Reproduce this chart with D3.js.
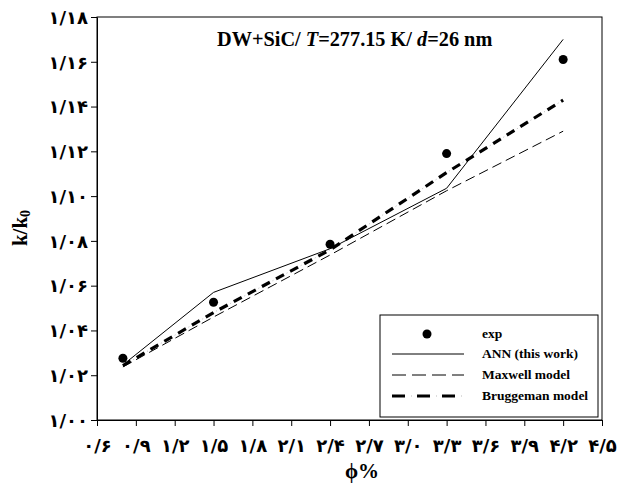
<!DOCTYPE html>
<html><head><meta charset="utf-8">
<script src="https://cdn.jsdelivr.net/npm/d3@7"></script>
<style>body{margin:0;background:#fff}</style>
</head><body>
<script>
const phi = [0.8, 1.5, 2.4, 3.3, 4.2];
const expVals = [1.0276, 1.0526, 1.0785, 1.119, 1.161];
const annVals = [1.0246, 1.057, 1.0765, 1.1035, 1.170];
const maxwellVals = [1.0237, 1.046, 1.0737, 1.1024, 1.129];
const bruggemanVals = [1.0243, 1.048, 1.0760, 1.1105, 1.1429];
const xTicks = [0.6,0.9,1.2,1.5,1.8,2.1,2.4,2.7,3.0,3.3,3.6,3.9,4.2,4.5];
const yTicks = [1.00,1.02,1.04,1.06,1.08,1.10,1.12,1.14,1.16,1.18];
const legendLabels = ["exp","ANN (this work)","Maxwell model","Bruggeman model"];

const W=625,H=493;
const m={l:97,r:602,t:17,b:420};
const svg=d3.select("body").append("svg").attr("width",W).attr("height",H);
const x=d3.scaleLinear().domain([0.6,4.5]).range([m.l,m.r]);
const y=d3.scaleLinear().domain([1.0,1.18]).range([m.b,m.t]);
const fa=n=>d=>{
  const s=d.toFixed(n);
  const p="۰۱۲۳۴۵۶۷۸۹";
  return s.replace(/[0-9]/g,c=>p[+c]).replace(".","/");
};
const tickFont="DejaVu Sans";
// frame
svg.append("rect").attr("x",m.l).attr("y",m.t).attr("width",m.r-m.l).attr("height",m.b-m.t)
  .attr("fill","none").attr("stroke","#000").attr("stroke-width",1);
const gx=svg.append("g").attr("transform",`translate(0,${m.b})`)
  .call(d3.axisBottom(x).tickValues(xTicks).tickSize(6).tickSizeOuter(0).tickFormat(fa(1)));
const gy=svg.append("g").attr("transform",`translate(${m.l},0)`)
  .call(d3.axisLeft(y).tickValues(yTicks).tickSize(6).tickSizeOuter(0).tickFormat(fa(2)));
[gx,gy].forEach(g=>{g.select(".domain").attr("stroke","#000");
  g.selectAll("text").attr("font-family",tickFont).attr("font-weight","bold").attr("font-size",18).attr("fill","#000");});
gx.selectAll("text").attr("dy","1.25em");
gy.selectAll("text").attr("x",-9).attr("dy","0.35em");

const pts=(vals)=>phi.map((p,i)=>[x(p),y(vals[i])]);
const line=d3.line();
svg.append("path").attr("d",line(pts(maxwellVals))).attr("fill","none").attr("stroke","#000")
  .attr("stroke-width",1).attr("stroke-dasharray","10,5");
svg.append("path").attr("d",line(pts(annVals))).attr("fill","none").attr("stroke","#000").attr("stroke-width",1);
svg.append("path").attr("d",line(pts(bruggemanVals))).attr("fill","none").attr("stroke","#000")
  .attr("stroke-width",3.2).attr("stroke-dasharray","9,7");
svg.append("path").attr("d",line(pts(bruggemanVals))).attr("fill","none").attr("stroke","#bbb")
  .attr("stroke-width",1).attr("stroke-dasharray","1,15").attr("stroke-dashoffset",-12);
svg.selectAll("circle.e").data(phi).enter().append("circle")
  .attr("cx",(d)=>x(d)).attr("cy",(d,i)=>y(expVals[i])).attr("r",4.5).attr("fill","#000");

// title
const t=svg.append("text").attr("x",217).attr("y",46).attr("font-family","Liberation Serif")
  .attr("font-weight","bold").attr("font-size",20.3);
t.append("tspan").text("DW+SiC/ ");
t.append("tspan").attr("font-style","italic").text("T");
t.append("tspan").text("=277.15 K/ ");
t.append("tspan").attr("font-style","italic").text("d");
t.append("tspan").text("=26 nm");

// axis labels
const yl=svg.append("text").attr("transform","translate(27,228) rotate(-90)").attr("text-anchor","middle")
  .attr("font-family","Liberation Serif").attr("font-weight","bold").attr("font-size",21);
yl.append("tspan").text("k/k");
yl.append("tspan").attr("font-size",14).attr("dy",3).text("0");
svg.append("text").attr("x",362).attr("y",478).attr("text-anchor","middle")
  .attr("font-family","Liberation Serif").attr("font-weight","bold").attr("font-size",21).text("ϕ%");

// legend
const lg=svg.append("g");
lg.append("rect").attr("x",380).attr("y",315).attr("width",218).attr("height",102)
  .attr("fill","#fff").attr("stroke","#000").attr("stroke-width",1);
const ly=[334,354,375,396];
const lx1=392,lx2=464;
lg.append("circle").attr("cx",427).attr("cy",ly[0]).attr("r",4.5).attr("fill","#000");
lg.append("line").attr("x1",lx1).attr("x2",lx2).attr("y1",ly[1]).attr("y2",ly[1]).attr("stroke","#000");
lg.append("line").attr("x1",lx1).attr("x2",lx2).attr("y1",ly[2]).attr("y2",ly[2]).attr("stroke","#000").attr("stroke-dasharray","14,6");
lg.append("line").attr("x1",lx1).attr("x2",lx2).attr("y1",ly[3]).attr("y2",ly[3]).attr("stroke","#000").attr("stroke-width",3.2).attr("stroke-dasharray","13,12");
lg.append("line").attr("x1",lx1).attr("x2",lx2).attr("y1",ly[3]).attr("y2",ly[3]).attr("stroke","#bbb").attr("stroke-width",1).attr("stroke-dasharray","1,24").attr("stroke-dashoffset",-19);
lg.selectAll("text").data(legendLabels).enter().append("text")
  .attr("x",482).attr("y",(d,i)=>ly[i]+4).attr("font-family","Liberation Serif").attr("font-weight","bold")
  .attr("font-size",13.5).text(d=>d);
</script>
</body></html>
